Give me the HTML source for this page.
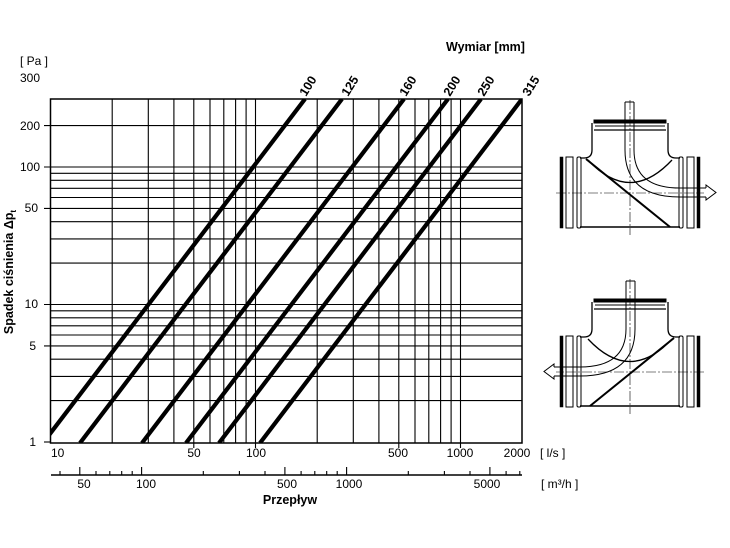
<!DOCTYPE html>
<html><head><meta charset="utf-8"><style>
html,body{margin:0;padding:0;background:#fff;}
svg{display:block;font-family:"Liberation Sans",sans-serif;}
</style></head><body>
<svg width="730" height="548" viewBox="0 0 730 548" xmlns="http://www.w3.org/2000/svg">
<g stroke="#000" stroke-width="1.1" fill="none">
<!-- horizontal grid: y=442-137.5*log10(v) -->
<line x1="50.5" y1="400.6" x2="522" y2="400.6"/>
<line x1="50.5" y1="376.4" x2="522" y2="376.4"/>
<line x1="50.5" y1="359.2" x2="522" y2="359.2"/>
<line x1="44" y1="345.9" x2="522" y2="345.9"/>
<line x1="50.5" y1="335.0" x2="522" y2="335.0"/>
<line x1="50.5" y1="325.8" x2="522" y2="325.8"/>
<line x1="50.5" y1="317.8" x2="522" y2="317.8"/>
<line x1="50.5" y1="310.8" x2="522" y2="310.8"/>
<line x1="44" y1="304.5" x2="522" y2="304.5"/>
<line x1="50.5" y1="263.1" x2="522" y2="263.1"/>
<line x1="50.5" y1="238.9" x2="522" y2="238.9"/>
<line x1="50.5" y1="221.7" x2="522" y2="221.7"/>
<line x1="44" y1="208.4" x2="522" y2="208.4"/>
<line x1="50.5" y1="197.5" x2="522" y2="197.5"/>
<line x1="50.5" y1="188.3" x2="522" y2="188.3"/>
<line x1="50.5" y1="180.3" x2="522" y2="180.3"/>
<line x1="50.5" y1="173.3" x2="522" y2="173.3"/>
<line x1="44" y1="167" x2="522" y2="167"/>
<line x1="44" y1="125.6" x2="522" y2="125.6"/>
<line x1="44" y1="442" x2="50.5" y2="442"/>
<!-- vertical grid: x=50.5+205*log10(v/10) -->
<line x1="112.2" y1="99" x2="112.2" y2="443"/>
<line x1="148.3" y1="99" x2="148.3" y2="443"/>
<line x1="173.9" y1="99" x2="173.9" y2="443"/>
<line x1="193.8" y1="99" x2="193.8" y2="448"/>
<line x1="210" y1="99" x2="210" y2="443"/>
<line x1="223.8" y1="99" x2="223.8" y2="443"/>
<line x1="235.6" y1="99" x2="235.6" y2="443"/>
<line x1="246.1" y1="99" x2="246.1" y2="443"/>
<line x1="255.5" y1="99" x2="255.5" y2="448"/>
<line x1="317.2" y1="99" x2="317.2" y2="443"/>
<line x1="353.3" y1="99" x2="353.3" y2="443"/>
<line x1="378.9" y1="99" x2="378.9" y2="443"/>
<line x1="398.8" y1="99" x2="398.8" y2="448"/>
<line x1="415" y1="99" x2="415" y2="443"/>
<line x1="428.8" y1="99" x2="428.8" y2="443"/>
<line x1="440.6" y1="99" x2="440.6" y2="443"/>
<line x1="451.1" y1="99" x2="451.1" y2="443"/>
<line x1="460.5" y1="99" x2="460.5" y2="448"/>
<rect x="50.5" y="99" width="471.5" height="344" stroke-width="1.5"/>
</g>
<!-- diagonals -->
<g stroke="#000" stroke-width="4.2" stroke-linecap="butt">
<clipPath id="c"><rect x="50.5" y="99" width="472" height="344"/></clipPath>
<g clip-path="url(#c)">
<line x1="43" y1="443" x2="305" y2="99"/>
<line x1="80" y1="443" x2="342" y2="99"/>
<line x1="142" y1="443" x2="404" y2="99"/>
<line x1="186" y1="443" x2="448" y2="99"/>
<line x1="219" y1="443" x2="481" y2="99"/>
<line x1="260" y1="443" x2="522" y2="99"/>
</g></g>
<!-- diag labels -->
<g font-size="12.5" font-weight="bold" fill="#000">
<text transform="translate(306,97) rotate(-58)">100</text>
<text transform="translate(348,97) rotate(-58)">125</text>
<text transform="translate(406,97) rotate(-58)">160</text>
<text transform="translate(450,97) rotate(-58)">200</text>
<text transform="translate(484,97) rotate(-58)">250</text>
<text transform="translate(529,97) rotate(-58)">315</text>
</g>
<text x="446" y="51" font-size="12.5" font-weight="bold">Wymiar [mm]</text>
<g font-size="12" fill="#000">
<text x="20" y="65">[ Pa ]</text>
<text x="20" y="82">300</text>
<text x="40" y="130" text-anchor="end">200</text>
<text x="40" y="171" text-anchor="end">100</text>
<text x="38" y="212" text-anchor="end">50</text>
<text x="38" y="308" text-anchor="end">10</text>
<text x="36" y="350" text-anchor="end">5</text>
<text x="36" y="446" text-anchor="end">1</text>
<text x="51" y="457">10</text>
<text x="194" y="457" text-anchor="middle">50</text>
<text x="256" y="457" text-anchor="middle">100</text>
<text x="398" y="457" text-anchor="middle">500</text>
<text x="460" y="457" text-anchor="middle">1000</text>
<text x="517" y="457" text-anchor="middle">2000</text>
<text x="540" y="457">[ l/s ]</text>
<text x="84" y="488" text-anchor="middle">50</text>
<text x="146" y="488" text-anchor="middle">100</text>
<text x="287" y="488" text-anchor="middle">500</text>
<text x="349" y="488" text-anchor="middle">1000</text>
<text x="487" y="488" text-anchor="middle">5000</text>
<text x="541" y="488">[ m³/h ]</text>
</g>
<text x="290" y="504" font-size="12.5" font-weight="bold" text-anchor="middle">Przepływ</text>
<text transform="translate(13,272) rotate(-90)" font-size="12.5" font-weight="bold" text-anchor="middle">Spadek ciśnienia Δp<tspan font-size="8" dy="3">t</tspan></text>
<!-- m3/h axis -->
<g stroke="#000" stroke-width="1.1">
<line x1="51" y1="475" x2="522" y2="475" stroke-width="1.5"/>
<line x1="60" y1="471" x2="60" y2="475"/>
<line x1="79.8" y1="467" x2="79.8" y2="475"/>
<line x1="96" y1="471" x2="96" y2="475"/>
<line x1="109.8" y1="471" x2="109.8" y2="475"/>
<line x1="121.7" y1="471" x2="121.7" y2="475"/>
<line x1="132.2" y1="471" x2="132.2" y2="475"/>
<line x1="141.6" y1="467" x2="141.6" y2="475"/>
<line x1="203.3" y1="471" x2="203.3" y2="475"/>
<line x1="239.4" y1="471" x2="239.4" y2="475"/>
<line x1="265" y1="471" x2="265" y2="475"/>
<line x1="284.9" y1="467" x2="284.9" y2="475"/>
<line x1="301.1" y1="471" x2="301.1" y2="475"/>
<line x1="314.8" y1="471" x2="314.8" y2="475"/>
<line x1="326.7" y1="471" x2="326.7" y2="475"/>
<line x1="337.2" y1="471" x2="337.2" y2="475"/>
<line x1="346.6" y1="467" x2="346.6" y2="475"/>
<line x1="408.3" y1="471" x2="408.3" y2="475"/>
<line x1="444.4" y1="471" x2="444.4" y2="475"/>
<line x1="470" y1="471" x2="470" y2="475"/>
<line x1="489.9" y1="467" x2="489.9" y2="475"/>
<line x1="506.1" y1="471" x2="506.1" y2="475"/>
<line x1="519.8" y1="471" x2="519.8" y2="475"/>
</g>
<!-- tee fittings -->
<defs>
<g id="tee" stroke="#000" fill="none">
<path d="M625,102 V150 Q625,197 680,197 H706 M634,102 V150 Q634,188 680,188 H706 M625,102 H634" stroke-width="1"/>
<path d="M706,188 V185 L716,192.5 L706,200 V197" stroke-width="1"/>
<rect x="594" y="120" width="72" height="3" fill="#000" stroke-width="1"/>
<line x1="595" y1="126" x2="665" y2="126" stroke-width="1"/>
<line x1="594" y1="130" x2="666" y2="130" stroke-width="1.3"/>
<path d="M592,123 V150 Q592,158 584,158 H580 M668,123 V150 Q668,158 676,158 H680" stroke-width="1.3"/>
<path d="M588,160 Q630,205 672,160" stroke-width="1.3"/>
<line x1="586" y1="159" x2="670" y2="227" stroke-width="2"/>
<line x1="580" y1="227" x2="680" y2="227" stroke-width="1.5"/>
<rect x="560" y="157" width="3" height="71" fill="#000" stroke-width="0.5"/>
<rect x="566" y="157" width="7" height="71" stroke-width="1"/>
<rect x="577" y="157" width="4" height="71" rx="1.5" stroke-width="1"/>
<rect x="697" y="157" width="3" height="71" fill="#000" stroke-width="0.5"/>
<rect x="687" y="157" width="7" height="71" stroke-width="1"/>
<rect x="679" y="157" width="4" height="71" rx="1.5" stroke-width="1"/>
<line x1="556" y1="193" x2="704" y2="193" stroke-width="0.6" stroke-dasharray="10,2,2,2"/>
<line x1="630" y1="100" x2="630" y2="235" stroke-width="0.6" stroke-dasharray="10,2,2,2"/>
</g>
</defs>
<use href="#tee"/>
<use href="#tee" transform="translate(1260,179) scale(-1,1)"/>
</svg>
</body></html>
